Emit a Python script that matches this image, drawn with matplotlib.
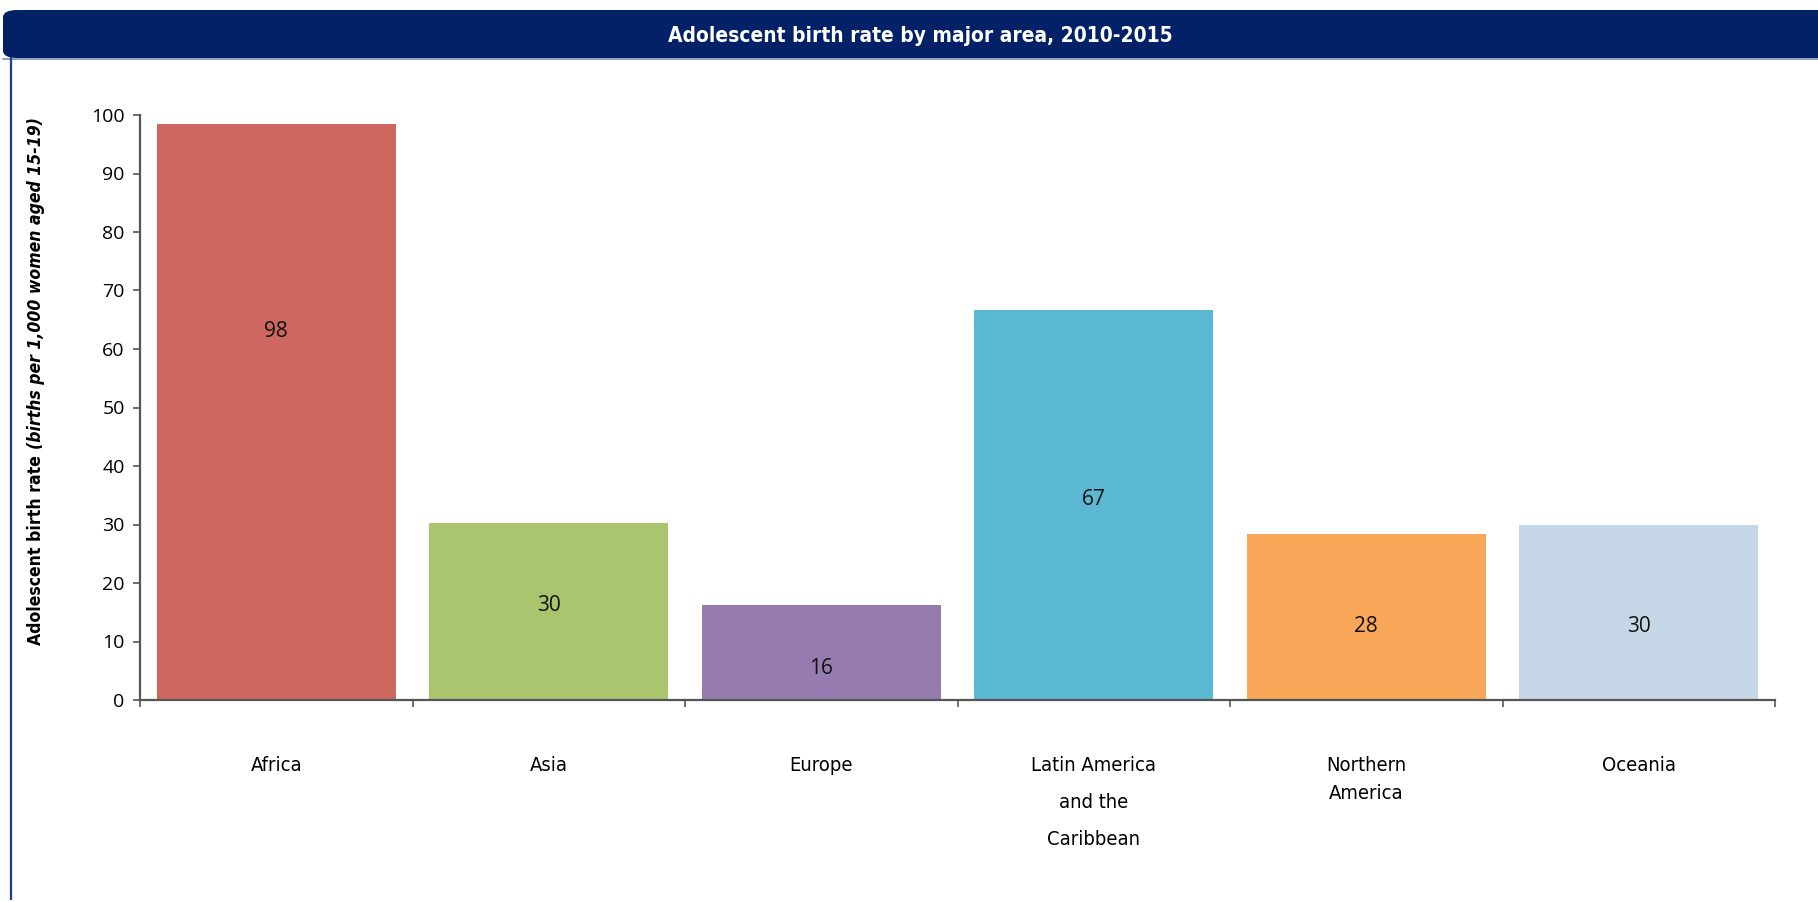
import matplotlib
matplotlib.use("Agg")
import matplotlib.pyplot as plt
from matplotlib.patches import FancyBboxPatch
from matplotlib.lines import Line2D

# data
areas = ["Africa", "Asia", "Europe", "Latin America\nand the\nCaribbean", "Northern\nAmerica", "Oceania"]
rates = [98.4, 30.3, 16.2, 66.6, 28.3, 29.9]
rate_labels = ["98", "30", "16", "67", "28", "30"]
colors = ["#cd6760", "#abc46e", "#957bb0", "#5bb8d2", "#f9a85a", "#c6d7e8"]

title = "Adolescent birth rate by major area, 2010-2015"
ylabel_main = "Adolescent birth rate "
ylabel_unit = "(births per 1,000 women aged 15-19)"

# where the value labels sit inside each bar (data units), as in the source
label_y = [63, 16.2, 5.3, 34.3, 12.5, 12.5]

narrow = dict(family=["DejaVu Sans"], stretch="condensed")
wide = ["Open Sans", "DejaVu Sans"]
navy = "#022167"

W, H = 1818, 902
fig = plt.figure(figsize=(W/100, H/100), dpi=100)

# title band and frame
band = FancyBboxPatch((3/W, 1-58/H), 1.2, 48/H, boxstyle="round,pad=0,rounding_size=0.008",
                      transform=fig.transFigure, facecolor=navy, edgecolor="none", zorder=0)
fig.patches.append(band)
fig.add_artist(Line2D([3/W, 1], [1-58.5/H, 1-58.5/H], transform=fig.transFigure, color="#7d8db5", lw=1.2))
fig.add_artist(Line2D([10.5/W, 10.5/W], [1-58/H, 0.003], transform=fig.transFigure, color="#1f3c94", lw=1.6))
fig.text(920/W, 1-36/H, title, color="white", fontsize=15, fontweight="bold",
         ha="center", va="center", **narrow)

ax = fig.add_axes([140/W, 1-700/H, 1635/W, 585/H])
x = list(range(len(areas)))
ax.bar(x, rates, width=0.877, color=colors, zorder=2)
ax.set_xlim(-0.5, len(areas)-0.5)
ax.set_ylim(0, 100)
ax.set_yticks(range(0, 101, 10))
ax.set_xticks([i-0.5 for i in range(len(areas)+1)])
ax.set_xticklabels([])
ax.tick_params(axis="y", direction="out", length=5, width=1.2, color="#555555", pad=6, labelsize=14)
ax.tick_params(axis="x", direction="out", length=5, width=1.2, color="#555555")
for t in ax.get_yticklabels():
    t.set_family(wide)
for s in ["top", "right"]:
    ax.spines[s].set_visible(False)
for s in ["left", "bottom"]:
    ax.spines[s].set_color("#555555")
    ax.spines[s].set_linewidth(1.6)

for i, (lab, ly) in enumerate(zip(rate_labels, label_y)):
    ax.text(i, ly, lab, ha="center", va="center", fontsize=15, family=wide, color="#111111", zorder=3)

for i, name in enumerate(areas):
    ls = 2.2 if name.count("\n") == 2 else 1.65
    ax.text(i, -0.095, name, transform=ax.get_xaxis_transform(), ha="center", va="top",
            fontsize=14.5, linespacing=ls, **narrow)

# y label in two styles, centred on the axis, read bottom to top
t1 = fig.text(36/W, 0, ylabel_main, rotation=90, ha="center", va="bottom",
              fontsize=12.6, fontweight="bold", **narrow)
t2 = fig.text(36/W, 0, ylabel_unit, rotation=90, ha="center", va="bottom",
              fontsize=12.6, fontweight="bold", style="italic", **narrow)
fig.canvas.draw()
h1 = t1.get_window_extent().height
h2 = t2.get_window_extent().height
start = 1-381/H - (h1+h2)/2/H
t1.set_y(start)
t2.set_y(start + h1/H)

fig.savefig("out.png", dpi=100)
